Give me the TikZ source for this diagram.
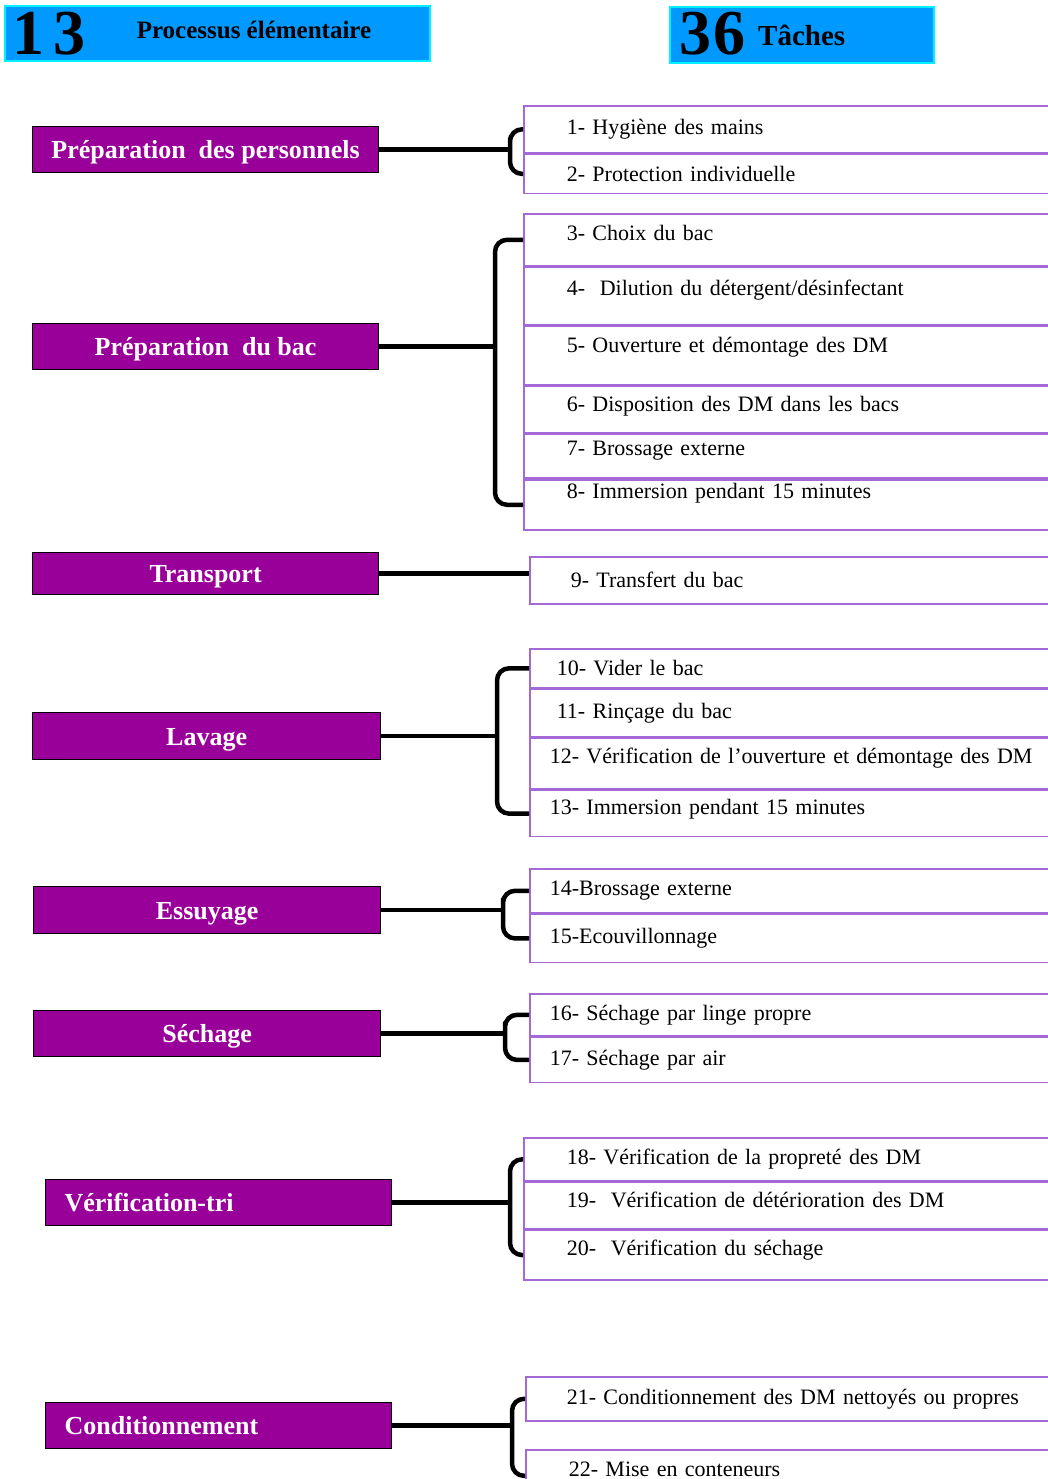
\documentclass[tikz,border=0pt]{standalone}
\usepackage{fontspec}
\setmainfont{Liberation Serif}
\usepackage{tikz}
\usetikzlibrary{positioning,calc}
\definecolor{procpurple}{RGB}{153,0,153}
\definecolor{headblue}{RGB}{0,153,255}
\definecolor{headcyan}{RGB}{0,240,255}
\definecolor{tasklilac}{RGB}{165,105,215}
\tikzset{
  headbox/.style={draw=headcyan, line width=2pt, fill=headblue},
  bignum/.style={anchor=west, inner xsep=0pt, font=\fontsize{64}{64}\selectfont\bfseries},
  proc/.style={draw=black, line width=1.2pt, fill=procpurple, text=white,
    font=\fontsize{26}{30}\selectfont\bfseries, anchor=north west,
    inner sep=0pt, minimum width=346pt, minimum height=46pt,
    text height=23pt, text depth=5pt},
  procleft/.style={proc, text width=308pt, align=left, inner xsep=19pt},
  task/.style={draw=tasklilac, line width=1.6pt, anchor=north west,
    font=\fontsize{22}{26}\selectfont, text width=540pt, align=left,
    inner ysep=0pt, inner xsep=#1},
  task/.default=43pt,
  up/.style={text depth=#1},
  link/.style={line width=4.5pt},
  brace/.style={line width=4.5pt, rounded corners=12pt},
}
\begin{document}
\begin{tikzpicture}[x=1pt,y=-1pt]
  \useasboundingbox (0,0) rectangle (1048,1479);
  \clip (0,0) rectangle (1048,1479);
  % Header
  \draw[headbox] (5,6) rectangle (430,61);
  \draw[headbox] (670,7) rectangle (934,63);
  \node[bignum] (n13) at (12,34) {1\kern9pt3};
  \node[font=\fontsize{25}{28}\selectfont\bfseries] (hproc) at (254,30) {Processus élémentaire};
  \node[bignum] (n36) at (679,34) {3\kern2pt6};
  \node[anchor=west, font=\fontsize{29}{30}\selectfont\bfseries, inner xsep=0pt] (htask) at (758,35) {Tâches};

  % Processes
  \node[proc] (p1) at (32,126) {Préparation\ \ des personnels};
  \node[proc] (p2) at (32,323) {Préparation\ \ du bac};
  \node[proc, minimum height=42pt] (p3) at (32,552) {Transport};
  \node[proc, minimum width=348pt, minimum height=47pt] (p4) at (32,712) {Lavage};
  \node[proc, minimum width=347pt, minimum height=47pt] (p5) at (33,886) {Essuyage};
  \node[proc, minimum width=347pt] (p6) at (33,1010) {Séchage};
  \node[procleft] (p7) at (45,1179) {Vérification-tri};
  \node[procleft] (p8) at (45,1402) {Conditionnement};

  % Tasks
  \node[task, minimum height=47pt] (t1) at (523,105) {1- Hygiène des mains};
  \node[task, minimum height=39pt] (t2) at (t1.south west) {2- Protection individuelle};

  \node[task, up=13pt, minimum height=52pt] (t3) at (523,213) {3- Choix du bac};
  \node[task, up=17pt, minimum height=57pt] (t4) at (t3.south west) {4-\ \ Dilution du détergent/désinfectant};
  \node[task, up=21pt, minimum height=59pt] (t5) at (t4.south west) {5- Ouverture et démontage des DM};
  \node[task, up=11pt, minimum height=46pt] (t6) at (t5.south west) {6- Disposition des DM dans les bacs};
  \node[task, up=15pt, minimum height=44pt] (t7) at (t6.south west) {7- Brossage externe};
  \node[task, up=27pt, minimum height=50pt] (t8) at (t7.south west) {8- Immersion pendant 15 minutes};

  \node[task=41pt, minimum height=47pt] (t9) at (529,556) {9- Transfert du bac};

  \node[task=27pt, minimum height=39pt] (t10) at (529,648) {10- Vider le bac};
  \node[task=27pt, minimum height=47pt] (t11) at (t10.south west) {11- Rinçage du bac};
  \node[task=20pt, up=15pt, minimum height=51pt] (t12) at (t11.south west) {12- Vérification de l’ouverture et démontage des DM};
  \node[task=20pt, up=13pt, minimum height=46pt] (t13) at (t12.south west) {13- Immersion pendant 15 minutes};

  \node[task=20pt, minimum height=44pt] (t14) at (529,868) {14-Brossage externe};
  \node[task=20pt, minimum height=48pt] (t15) at (t14.south west) {15-Ecouvillonnage};

  \node[task=20pt, minimum height=42pt] (t16) at (529,993) {16- Séchage par linge propre};
  \node[task=20pt, minimum height=45pt] (t17) at (t16.south west) {17- Séchage par air};

  \node[task, minimum height=43pt] (t18) at (523,1137) {18- Vérification de la propreté des DM};
  \node[task, up=11pt, minimum height=46pt] (t19) at (t18.south west) {19-\ \ Vérification de détérioration des DM};
  \node[task, up=15pt, minimum height=50pt] (t20) at (t19.south west) {20-\ \ Vérification du séchage};

  \node[task=41pt, minimum height=44pt] (t21) at (525,1376) {21- Conditionnement des DM nettoyés ou propres};
  \node[task=43pt, minimum height=40pt] (t22) at (525,1449) {22- Mise en conteneurs};

  % Brace spines
  \coordinate (s1) at (510,0);
  \coordinate (s2) at (495,0);
  \coordinate (s4) at (497,0);
  \coordinate (s5) at (503,0);
  \coordinate (s6) at (505,0);
  \coordinate (s7) at (510,0);
  \coordinate (s8) at (512,0);

  % Links
  \draw[link] (p1.east) -- (p1.east -| s1);
  \draw[brace] (t1.west) -| (p1.east -| s1) |- (t2.west);
  \draw[link] (p2.east) -- (p2.east -| s2);
  \draw[brace] (t3.west) -| (p2.east -| s2) |- (t8.west);
  \draw[link] (p3.east) -- (p3.east -| t9.west);
  \draw[link] (p4.east) -- (p4.east -| s4);
  \draw[brace] (t10.west) -| (p4.east -| s4) |- (t13.west);
  \draw[link] (p5.east) -- (p5.east -| s5);
  \draw[brace] (t14.west) -| (p5.east -| s5) |- (t15.west);
  \draw[link] (p6.east) -- (p6.east -| s6);
  \draw[brace] (t16.west) -| (p6.east -| s6) |- (t17.west);
  \draw[link] (p7.east) -- (p7.east -| s7);
  \draw[brace] (t18.west) -| (p7.east -| s7) |- (t20.west);
  \draw[link] (p8.east) -- (p8.east -| s8);
  \draw[brace] (t21.west) -| (p8.east -| s8) |- ($(t22.west)+(0,6)$);
\end{tikzpicture}
\end{document}
